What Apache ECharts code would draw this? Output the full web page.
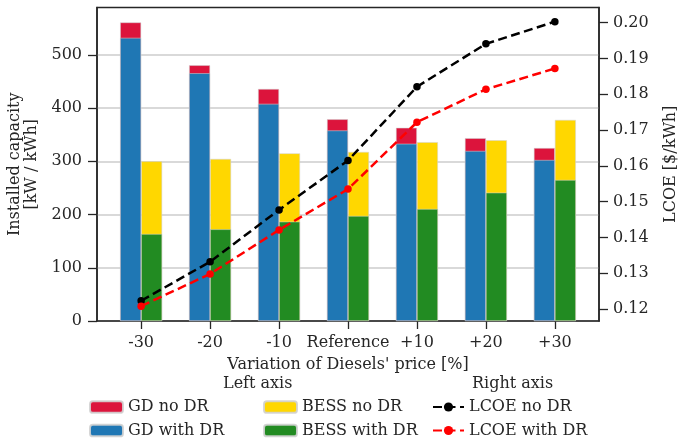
<!DOCTYPE html>
<html><head><meta charset="utf-8">
<script src="https://cdn.jsdelivr.net/npm/echarts@6/dist/echarts.min.js"></script>
<style>html,body{margin:0;padding:0;background:#fff}#c{width:682px;height:444px}</style>
</head><body><div id="c"></div>
<script>
const categories = ['-30', '-20', '-10', 'Reference', '+10', '+20', '+30'];
const gdWithDR   = [532, 465.5, 408, 358, 333, 319.5, 302.5];
const gdNoDR     = [561, 480.5, 436, 379, 363, 343.5, 325];
const bessWithDR = [163.5, 172.3, 186.7, 197.4, 210.5, 241.2, 265];
const bessNoDR   = [300, 304.5, 315, 317.7, 336, 339.6, 377.8];
const lcoeNoDR   = [0.1223, 0.1332, 0.1477, 0.1615, 0.1821, 0.1941, 0.2003];
const lcoeWithDR = [0.1208, 0.1298, 0.1421, 0.1535, 0.1722, 0.1814, 0.1872];
const leftTicks  = [0, 100, 200, 300, 400, 500];
const rightTicks = [0.12, 0.13, 0.14, 0.15, 0.16, 0.17, 0.18, 0.19, 0.20];
const xTicks = categories.map((c, i) => i);

const FONT = 'DejaVu Serif';
const TXT = '#262626';
const chart = echarts.init(document.getElementById('c'), null, {renderer: 'canvas'});

const barBorder = {borderColor: 'rgba(210,210,210,0.9)', borderWidth: 0.6};
const txt = {fontFamily: FONT, fontSize: 16, color: TXT};
const xMin = -0.64, xMax = 6.64;

chart.setOption({
  animation: false,
  backgroundColor: '#fff',
  textStyle: {fontFamily: FONT},
  title: [
    {text: 'Left axis', left: 223, top: 376, padding: 0, textStyle: Object.assign({fontWeight: 'normal'}, txt)},
    {text: 'Right axis', left: 472, top: 376, padding: 0, textStyle: Object.assign({fontWeight: 'normal'}, txt)}
  ],
  grid: {left: 97, right: 83, top: 7.5, bottom: 123, outerBoundsMode: 'none', containLabel: false,
         show: true, borderColor: TXT, borderWidth: 1.5, backgroundColor: 'transparent'},
  legend: [
    {data: ['GD no DR', 'GD with DR'], orient: 'vertical', left: 89, top: 399, itemWidth: 33, itemHeight: 11.5, itemGap: 7.5, itemTextGap: 12, padding: 0, textStyle: Object.assign({lineHeight: 16}, txt)},
    {data: ['BESS no DR', 'BESS with DR'], orient: 'vertical', left: 263, top: 399, itemWidth: 33, itemHeight: 11.5, itemGap: 7.5, itemTextGap: 13, padding: 0, textStyle: Object.assign({lineHeight: 16}, txt)},
    {data: ['LCOE no DR', 'LCOE with DR'], orient: 'vertical', left: 432, top: 399, itemWidth: 31, itemHeight: 11.5, itemGap: 7.5, itemTextGap: 12, padding: 0, textStyle: Object.assign({lineHeight: 16}, txt)}
  ],
  xAxis: [
    {
      type: 'value', min: xMin, max: xMax,
      name: "Variation of Diesels' price [%]", nameLocation: 'middle', nameGap: 36,
      nameTextStyle: txt,
      axisLine: {onZero: false, lineStyle: {color: TXT, width: 1.5}},
      axisTick: {show: true, length: 8, customValues: xTicks, lineStyle: {color: TXT, width: 1.3}},
      axisLabel: Object.assign({margin: 14, customValues: xTicks, formatter: v => categories[Math.round(v)]}, txt),
      splitLine: {show: false}
    },
    {
      type: 'value', min: xMin, max: xMax, show: false,
      axisLine: {onZero: false},
      splitLine: {show: false}
    }
  ],
  yAxis: [
    {
      type: 'value', min: 0, max: 589, interval: 100, position: 'left',
      name: 'Installed capacity\n[kW / kWh]', nameLocation: 'middle', nameGap: 50,
      nameTextStyle: Object.assign({lineHeight: 17}, txt),
      axisLine: {show: true, onZero: false, lineStyle: {color: TXT, width: 1.5}},
      axisTick: {show: true, length: 9, customValues: leftTicks, lineStyle: {color: TXT, width: 1.3}},
      axisLabel: Object.assign({margin: 15, customValues: leftTicks}, txt),
      splitLine: {show: true, lineStyle: {color: '#cccccc', width: 1.5}}
    },
    {
      type: 'value', min: 0.11665, max: 0.20425, position: 'right',
      name: 'LCOE [$/kWh]', nameLocation: 'middle', nameGap: 64,
      nameTextStyle: txt,
      axisLine: {show: true, onZero: false, lineStyle: {color: TXT, width: 1.5}},
      axisTick: {show: true, length: 9, customValues: rightTicks, lineStyle: {color: TXT, width: 1.3}},
      axisLabel: Object.assign({margin: 14, customValues: rightTicks, formatter: v => v.toFixed(2)}, txt),
      splitLine: {show: false}
    }
  ],
  series: [
    {name: 'GD no DR', type: 'bar', xAxisIndex: 0, barWidth: 21, barGap: '0%', z: 2,
     itemStyle: Object.assign({color: '#dc143c'}, barBorder),
     data: gdNoDR.map((v, i) => [i, v])},
    {name: 'BESS no DR', type: 'bar', xAxisIndex: 0, barWidth: 21, barGap: '0%', z: 2,
     itemStyle: Object.assign({color: '#ffd700'}, barBorder),
     data: bessNoDR.map((v, i) => [i, v])},
    {name: 'GD with DR', type: 'bar', xAxisIndex: 1, barWidth: 21, barGap: '0%', z: 3,
     itemStyle: Object.assign({color: '#1f77b4'}, barBorder),
     data: gdWithDR.map((v, i) => [i, v])},
    {name: 'BESS with DR', type: 'bar', xAxisIndex: 1, barWidth: 21, barGap: '0%', z: 3,
     itemStyle: Object.assign({color: '#228b22'}, barBorder),
     data: bessWithDR.map((v, i) => [i, v])},
    {name: 'LCOE no DR', type: 'line', yAxisIndex: 1, z: 5,
     symbol: 'circle', symbolSize: 7.5,
     lineStyle: {color: '#000', width: 2.5, type: [9, 4.5]},
     itemStyle: {color: '#000'},
     data: lcoeNoDR.map((v, i) => [i, v])},
    {name: 'LCOE with DR', type: 'line', yAxisIndex: 1, z: 5,
     symbol: 'circle', symbolSize: 7.5,
     lineStyle: {color: '#ff0000', width: 2.5, type: [9, 4.5]},
     itemStyle: {color: '#ff0000'},
     data: lcoeWithDR.map((v, i) => [i, v])}
  ]
});
</script></body></html>
